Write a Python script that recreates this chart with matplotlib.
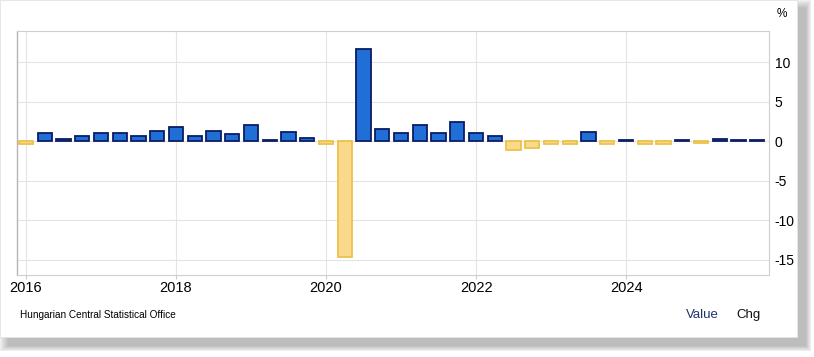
import numpy as np
import matplotlib
matplotlib.use('Agg')
import matplotlib.pyplot as plt
from matplotlib.patches import Rectangle

plt.rcParams['font.family'] = ['Liberation Sans', 'DejaVu Sans']
plt.rcParams['axes.unicode_minus'] = False  # plain hyphen like the original

# quarterly change, % (2016 Q1 .. 2025 Q4)
years = list(range(2016, 2026))
quarters = [y + q * 0.25 for y in years for q in range(4)]
values = [-0.3, 1.0, 0.3, 0.7,
          1.0, 1.0, 0.7, 1.3,
          1.8, 0.7, 1.3, 0.9,
          2.0, 0.1, 1.2, 0.4,
          -0.3, -14.6, 11.6, 1.6,
          1.1, 2.0, 1.0, 2.4,
          1.0, 0.7, -1.1, -0.9,
          -0.3, -0.3, 1.2, -0.3,
          0.1, -0.3, -0.4, 0.1,
          -0.2, 0.3, 0.1, 0.1]
xtick_years = [2016, 2018, 2020, 2022, 2024]
yticks = [-15, -10, -5, 0, 5, 10]

W, H = 814, 357
fig = plt.figure(figsize=(W / 100, H / 100), dpi=100)
fig.patch.set_facecolor('white')

# card with soft shadow
def px_rect(x0, y0, x1, y1, **kw):
    return Rectangle((x0 / W, 1 - y1 / H), (x1 - x0) / W, (y1 - y0) / H,
                     transform=fig.transFigure, zorder=-10, **kw)

for k in range(10):
    fig.patches.append(px_rect(8 - k, 8 - k, 806 + k * 0.6, 346 + k * 0.6,
                               facecolor='#505050', edgecolor='none', alpha=0.045))
fig.patches.append(px_rect(0, 0, 797, 337, facecolor='white', edgecolor='#e4e4e4', lw=0.6))

ax = fig.add_axes([17 / W, 1 - 275 / H, (769 - 17) / W, (275 - 30.5) / H])
ax.set_facecolor('none')

cols = ['#1f6fd6' if v >= 0 else '#fbd98c' for v in values]
edges = ['#0b1d66' if v >= 0 else '#ecc24a' for v in values]
ax.bar(quarters, values, width=0.19, color=cols, edgecolor=edges, linewidth=1.3, zorder=3)

ax.set_xlim(2015.88, 2025.905)
ax.set_ylim(-16.9, 14.0)
ax.set_xticks(xtick_years)
ax.set_xticklabels([str(y) for y in xtick_years], fontsize=10.5)
ax.set_yticks(yticks)
ax.yaxis.tick_right()
ax.tick_params(axis='y', length=0, pad=4, labelsize=10)
ax.tick_params(axis='x', length=3, color='#cccccc', pad=1)
ax.grid(True, color='#e4e4e4', linewidth=0.8, zorder=0)
ax.set_axisbelow(True)
for s in ['top', 'right', 'bottom']:
    ax.spines[s].set_color('#cfcfcf')
    ax.spines[s].set_linewidth(0.8)
ax.spines['left'].set_color('#b5b5b5')
ax.spines['left'].set_linewidth(1.0)

fig.text(782 / W, 1 - 14 / H, '%', fontsize=8.5, ha='center', va='center')
fig.text(20 / W, 1 - 315 / H, 'Hungarian Central Statistical Office', fontsize=7.2,
         ha='left', va='center')
fig.text(686 / W, 1 - 315 / H, 'Value', fontsize=9.5, color='#1c3468', ha='left', va='center')
fig.text(736 / W, 1 - 315 / H, 'Chg', fontsize=9.5, color='#111111', ha='left', va='center')

fig.savefig('out.png', dpi=100)
